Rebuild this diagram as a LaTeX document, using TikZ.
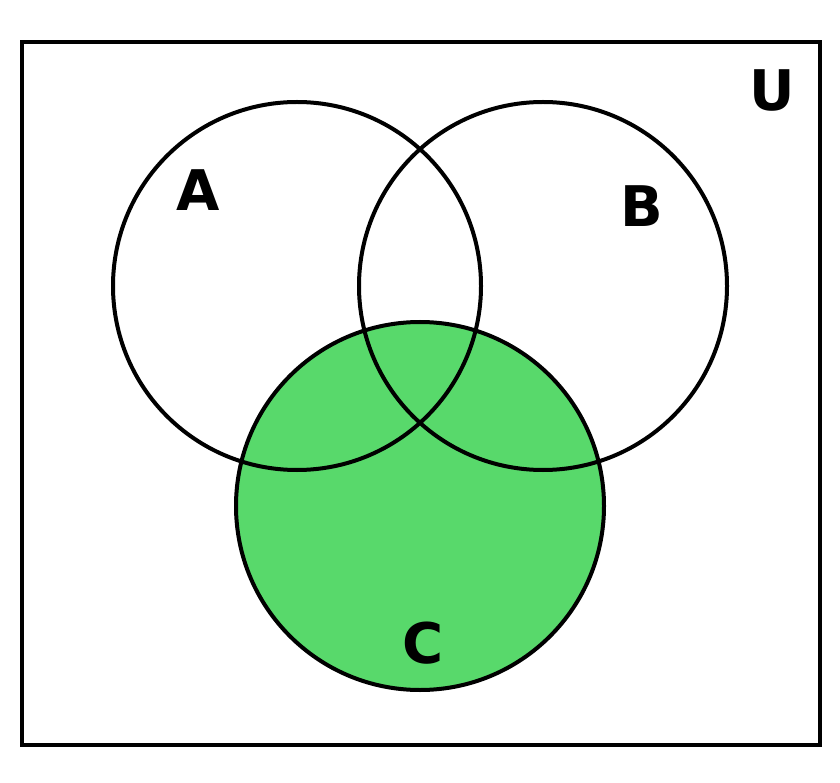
\documentclass[tikz,border=0pt]{standalone}
\usepackage{fontspec}
\setmainfont{DejaVu Sans}
\begin{document}
\begin{tikzpicture}[x=1pt,y=-1pt,
  setc/.style={draw=black,line width=4pt,circle,minimum size=368pt,inner sep=0pt},
  lbl/.style={font=\bfseries\fontsize{56}{60}\selectfont,inner sep=0pt}]
\useasboundingbox[fill=white] (0,0) rectangle (840,783);
\node[draw=black,line width=4pt,minimum width=798pt,minimum height=703pt,inner sep=0pt] (U) at (421,393.5) {};
\node[setc,fill={rgb,255:red,88;green,217;blue,107}] (C) at (420,506) {};
\node[setc] (A) at (297,286) {};
\node[setc] (B) at (543,286) {};
\node[lbl] (la) at (198,190) {A};
\node[lbl] (lb) at (642,206) {B};
\node[lbl] (lu) at (772,90) {U};
\node[lbl] (lc) at (423,643) {C};
\end{tikzpicture}
\end{document}
